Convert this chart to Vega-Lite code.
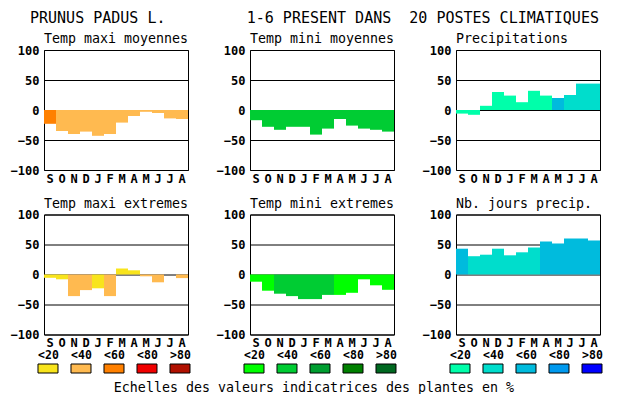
{
  "$schema": "https://vega.github.io/schema/vega-lite/v6.json",
  "background": "white",
  "padding": {"left": 9, "top": 11, "right": 5, "bottom": 5},
  "title": {"text": "PRUNUS PADUS L.\u00a0\u00a0\u00a0\u00a0\u00a0\u00a0\u00a0\u00a0\u00a01-6 PRESENT DANS\u00a0\u00a020 POSTES CLIMATIQUES", "fontSize": 15, "anchor": "start", "frame": "group", "dx": -14, "offset": 5.5},
  "datasets": {
    "bars": [
      {"p": "tmaxmoy", "m": 1, "v": -23, "c": "T3"},
      {"p": "tmaxmoy", "m": 2, "v": -35, "c": "T2"},
      {"p": "tmaxmoy", "m": 3, "v": -40, "c": "T2"},
      {"p": "tmaxmoy", "m": 4, "v": -36, "c": "T2"},
      {"p": "tmaxmoy", "m": 5, "v": -43, "c": "T2"},
      {"p": "tmaxmoy", "m": 6, "v": -40, "c": "T2"},
      {"p": "tmaxmoy", "m": 7, "v": -21, "c": "T2"},
      {"p": "tmaxmoy", "m": 8, "v": -10, "c": "T2"},
      {"p": "tmaxmoy", "m": 9, "v": -3, "c": "T2"},
      {"p": "tmaxmoy", "m": 10, "v": -5, "c": "T2"},
      {"p": "tmaxmoy", "m": 11, "v": -14, "c": "T2"},
      {"p": "tmaxmoy", "m": 12, "v": -15, "c": "T2"},
      {"p": "tminmoy", "m": 1, "v": -17, "c": "N2"},
      {"p": "tminmoy", "m": 2, "v": -28, "c": "N2"},
      {"p": "tminmoy", "m": 3, "v": -33, "c": "N2"},
      {"p": "tminmoy", "m": 4, "v": -28, "c": "N2"},
      {"p": "tminmoy", "m": 5, "v": -28, "c": "N2"},
      {"p": "tminmoy", "m": 6, "v": -41, "c": "N2"},
      {"p": "tminmoy", "m": 7, "v": -31, "c": "N2"},
      {"p": "tminmoy", "m": 8, "v": -15, "c": "N2"},
      {"p": "tminmoy", "m": 9, "v": -26, "c": "N2"},
      {"p": "tminmoy", "m": 10, "v": -31, "c": "N2"},
      {"p": "tminmoy", "m": 11, "v": -33, "c": "N2"},
      {"p": "tminmoy", "m": 12, "v": -36, "c": "N2"},
      {"p": "prec", "m": 1, "v": -6, "c": "P1"},
      {"p": "prec", "m": 2, "v": -8, "c": "P1"},
      {"p": "prec", "m": 3, "v": 7, "c": "P1"},
      {"p": "prec", "m": 4, "v": 30, "c": "P1"},
      {"p": "prec", "m": 5, "v": 24, "c": "P1"},
      {"p": "prec", "m": 6, "v": 13, "c": "P1"},
      {"p": "prec", "m": 7, "v": 32, "c": "P1"},
      {"p": "prec", "m": 8, "v": 24, "c": "P1"},
      {"p": "prec", "m": 9, "v": 20, "c": "P3"},
      {"p": "prec", "m": 10, "v": 25, "c": "P2"},
      {"p": "prec", "m": 11, "v": 44, "c": "P2"},
      {"p": "prec", "m": 12, "v": 44, "c": "P2"},
      {"p": "tmaxext", "m": 1, "v": -5.5, "c": "T1"},
      {"p": "tmaxext", "m": 2, "v": -8, "c": "T1"},
      {"p": "tmaxext", "m": 3, "v": -36, "c": "T2"},
      {"p": "tmaxext", "m": 4, "v": -26, "c": "T2"},
      {"p": "tmaxext", "m": 5, "v": -23, "c": "T1"},
      {"p": "tmaxext", "m": 6, "v": -36, "c": "T2"},
      {"p": "tmaxext", "m": 7, "v": 10, "c": "T1"},
      {"p": "tmaxext", "m": 8, "v": 7, "c": "T1"},
      {"p": "tmaxext", "m": 9, "v": -3, "c": "T2"},
      {"p": "tmaxext", "m": 10, "v": -13, "c": "T2"},
      {"p": "tmaxext", "m": 11, "v": 0, "c": "T2"},
      {"p": "tmaxext", "m": 12, "v": -6, "c": "T2"},
      {"p": "tminext", "m": 1, "v": -12, "c": "N1"},
      {"p": "tminext", "m": 2, "v": -27, "c": "N1"},
      {"p": "tminext", "m": 3, "v": -32, "c": "N2"},
      {"p": "tminext", "m": 4, "v": -36, "c": "N2"},
      {"p": "tminext", "m": 5, "v": -41, "c": "N2"},
      {"p": "tminext", "m": 6, "v": -41, "c": "N2"},
      {"p": "tminext", "m": 7, "v": -34, "c": "N2"},
      {"p": "tminext", "m": 8, "v": -34, "c": "N1"},
      {"p": "tminext", "m": 9, "v": -30.5, "c": "N1"},
      {"p": "tminext", "m": 10, "v": -8, "c": "N1"},
      {"p": "tminext", "m": 11, "v": -18, "c": "N1"},
      {"p": "tminext", "m": 12, "v": -25.5, "c": "N1"},
      {"p": "nbj", "m": 1, "v": 43, "c": "P3"},
      {"p": "nbj", "m": 2, "v": 30.5, "c": "P2"},
      {"p": "nbj", "m": 3, "v": 33, "c": "P2"},
      {"p": "nbj", "m": 4, "v": 43, "c": "P2"},
      {"p": "nbj", "m": 5, "v": 32, "c": "P2"},
      {"p": "nbj", "m": 6, "v": 37, "c": "P2"},
      {"p": "nbj", "m": 7, "v": 45, "c": "P2"},
      {"p": "nbj", "m": 8, "v": 55, "c": "P3"},
      {"p": "nbj", "m": 9, "v": 51.7, "c": "P3"},
      {"p": "nbj", "m": 10, "v": 60, "c": "P3"},
      {"p": "nbj", "m": 11, "v": 60, "c": "P3"},
      {"p": "nbj", "m": 12, "v": 56.7, "c": "P3"}
    ],
    "legend": [
      {"f": "T", "k": "<20", "c": "T1"},
      {"f": "T", "k": "<40", "c": "T2"},
      {"f": "T", "k": "<60", "c": "T3"},
      {"f": "T", "k": "<80", "c": "T4"},
      {"f": "T", "k": ">80", "c": "T5"},
      {"f": "N", "k": "<20", "c": "N1"},
      {"f": "N", "k": "<40", "c": "N2"},
      {"f": "N", "k": "<60", "c": "N3"},
      {"f": "N", "k": "<80", "c": "N4"},
      {"f": "N", "k": ">80", "c": "N5"},
      {"f": "P", "k": "<20", "c": "P1"},
      {"f": "P", "k": "<40", "c": "P2"},
      {"f": "P", "k": "<60", "c": "P3"},
      {"f": "P", "k": "<80", "c": "P4"},
      {"f": "P", "k": ">80", "c": "P5"}
    ]
  },
  "data": {"name": "bars"},
  "config": {
    "font": "DejaVu Sans Mono",
    "view": {"stroke": "black", "strokeWidth": 1},
    "axisY": {"grid": true, "gridColor": "black", "gridOpacity": 1, "gridWidth": 1, "domain": false, "ticks": false, "tickSize": 0, "labelPadding": 5, "labelFontWeight": "bold", "labelFontSize": 12, "labelColor": "black", "labelOverlap": false, "labelFlush": false, "title": null, "zindex": 1},
    "axisX": {"labelAngle": 0, "domain": false, "ticks": false, "tickSize": 0, "labelPadding": 3, "labelFontWeight": "bold", "labelFontSize": 12, "labelColor": "black", "title": null, "grid": false},
    "title": {"fontSize": 13.3, "fontWeight": "normal", "color": "black", "anchor": "start", "frame": "group", "baseline": "alphabetic", "offset": -1.5}
  },
  "vconcat": [
    {
      "vconcat": [
        {
          "hconcat": [
            {"width": 144, "height": 120, "title": "Temp maxi moyennes", "transform": [{"filter": "datum.p === 'tmaxmoy'"}], "mark": "bar",
             "encoding": {"x": {"field": "m", "type": "ordinal", "scale": {"paddingInner": 0, "paddingOuter": 0}, "axis": {"labelExpr": "['S','O','N','D','J','F','M','A','M','J','J','A'][datum.value-1]"}},
                          "y": {"field": "v", "type": "quantitative", "scale": {"domain": [-100, 100], "nice": false}, "axis": {"values": [-100, -50, 0, 50, 100]}},
                          "color": {"field": "c", "type": "nominal", "legend": null, "scale": {"domain": ["T1","T2","T3","T4","T5","N1","N2","N3","N4","N5","P1","P2","P3","P4","P5"], "range": ["#f8e41c","#ffba50","#ff8000","#f00000","#b01000","#00ff00","#00cc33","#009e30","#008000","#006820","#00ffaa","#00ddcc","#00bbdd","#0099ee","#0000ff"]}}}},
            {"width": 144, "height": 120, "title": "Temp mini moyennes", "transform": [{"filter": "datum.p === 'tminmoy'"}], "mark": "bar",
             "encoding": {"x": {"field": "m", "type": "ordinal", "scale": {"paddingInner": 0, "paddingOuter": 0}, "axis": {"labelExpr": "['S','O','N','D','J','F','M','A','M','J','J','A'][datum.value-1]"}},
                          "y": {"field": "v", "type": "quantitative", "scale": {"domain": [-100, 100], "nice": false}, "axis": {"values": [-100, -50, 0, 50, 100]}},
                          "color": {"field": "c", "type": "nominal", "legend": null, "scale": {"domain": ["T1","T2","T3","T4","T5","N1","N2","N3","N4","N5","P1","P2","P3","P4","P5"], "range": ["#f8e41c","#ffba50","#ff8000","#f00000","#b01000","#00ff00","#00cc33","#009e30","#008000","#006820","#00ffaa","#00ddcc","#00bbdd","#0099ee","#0000ff"]}}}},
            {"width": 144, "height": 120, "title": "Precipitations", "transform": [{"filter": "datum.p === 'prec'"}], "mark": "bar",
             "encoding": {"x": {"field": "m", "type": "ordinal", "scale": {"paddingInner": 0, "paddingOuter": 0}, "axis": {"labelExpr": "['S','O','N','D','J','F','M','A','M','J','J','A'][datum.value-1]"}},
                          "y": {"field": "v", "type": "quantitative", "scale": {"domain": [-100, 100], "nice": false}, "axis": {"values": [-100, -50, 0, 50, 100]}},
                          "color": {"field": "c", "type": "nominal", "legend": null, "scale": {"domain": ["T1","T2","T3","T4","T5","N1","N2","N3","N4","N5","P1","P2","P3","P4","P5"], "range": ["#f8e41c","#ffba50","#ff8000","#f00000","#b01000","#00ff00","#00cc33","#009e30","#008000","#006820","#00ffaa","#00ddcc","#00bbdd","#0099ee","#0000ff"]}}}}
          ],
          "spacing": 62, "bounds": "flush"
        },
        {
          "hconcat": [
            {"width": 144, "height": 120, "title": "Temp maxi extremes", "transform": [{"filter": "datum.p === 'tmaxext'"}], "mark": "bar",
             "encoding": {"x": {"field": "m", "type": "ordinal", "scale": {"paddingInner": 0, "paddingOuter": 0}, "axis": {"labelExpr": "['S','O','N','D','J','F','M','A','M','J','J','A'][datum.value-1]"}},
                          "y": {"field": "v", "type": "quantitative", "scale": {"domain": [-100, 100], "nice": false}, "axis": {"values": [-100, -50, 0, 50, 100]}},
                          "color": {"field": "c", "type": "nominal", "legend": null, "scale": {"domain": ["T1","T2","T3","T4","T5","N1","N2","N3","N4","N5","P1","P2","P3","P4","P5"], "range": ["#f8e41c","#ffba50","#ff8000","#f00000","#b01000","#00ff00","#00cc33","#009e30","#008000","#006820","#00ffaa","#00ddcc","#00bbdd","#0099ee","#0000ff"]}}}},
            {"width": 144, "height": 120, "title": "Temp mini extremes", "transform": [{"filter": "datum.p === 'tminext'"}], "mark": "bar",
             "encoding": {"x": {"field": "m", "type": "ordinal", "scale": {"paddingInner": 0, "paddingOuter": 0}, "axis": {"labelExpr": "['S','O','N','D','J','F','M','A','M','J','J','A'][datum.value-1]"}},
                          "y": {"field": "v", "type": "quantitative", "scale": {"domain": [-100, 100], "nice": false}, "axis": {"values": [-100, -50, 0, 50, 100]}},
                          "color": {"field": "c", "type": "nominal", "legend": null, "scale": {"domain": ["T1","T2","T3","T4","T5","N1","N2","N3","N4","N5","P1","P2","P3","P4","P5"], "range": ["#f8e41c","#ffba50","#ff8000","#f00000","#b01000","#00ff00","#00cc33","#009e30","#008000","#006820","#00ffaa","#00ddcc","#00bbdd","#0099ee","#0000ff"]}}}},
            {"width": 144, "height": 120, "title": "Nb. jours precip.", "transform": [{"filter": "datum.p === 'nbj'"}], "mark": "bar",
             "encoding": {"x": {"field": "m", "type": "ordinal", "scale": {"paddingInner": 0, "paddingOuter": 0}, "axis": {"labelExpr": "['S','O','N','D','J','F','M','A','M','J','J','A'][datum.value-1]"}},
                          "y": {"field": "v", "type": "quantitative", "scale": {"domain": [-100, 100], "nice": false}, "axis": {"values": [-100, -50, 0, 50, 100]}},
                          "color": {"field": "c", "type": "nominal", "legend": null, "scale": {"domain": ["T1","T2","T3","T4","T5","N1","N2","N3","N4","N5","P1","P2","P3","P4","P5"], "range": ["#f8e41c","#ffba50","#ff8000","#f00000","#b01000","#00ff00","#00cc33","#009e30","#008000","#006820","#00ffaa","#00ddcc","#00bbdd","#0099ee","#0000ff"]}}}}
          ],
          "spacing": 62, "bounds": "flush"
        }
      ],
      "spacing": 10.5
    },
    {
      "hconcat": [
        {"width": 144, "height": 9, "data": {"name": "legend"}, "view": {"stroke": null}, "transform": [{"filter": "datum.f === 'T'"}],
         "mark": {"type": "bar", "width": 20, "stroke": "black", "strokeWidth": 1},
         "encoding": {"x": {"field": "k", "type": "ordinal", "sort": null, "scale": {"type": "point", "padding": 0.182, "align": 0.333}, "axis": {"orient": "top", "labelPadding": 6, "labelBaseline": "alphabetic", "labelFontSize": 11.5}},
                      "color": {"field": "c", "type": "nominal", "legend": null, "scale": {"domain": ["T1","T2","T3","T4","T5","N1","N2","N3","N4","N5","P1","P2","P3","P4","P5"], "range": ["#f8e41c","#ffba50","#ff8000","#f00000","#b01000","#00ff00","#00cc33","#009e30","#008000","#006820","#00ffaa","#00ddcc","#00bbdd","#0099ee","#0000ff"]}}}},
        {"width": 144, "height": 9, "data": {"name": "legend"}, "view": {"stroke": null}, "transform": [{"filter": "datum.f === 'N'"}],
         "mark": {"type": "bar", "width": 20, "stroke": "black", "strokeWidth": 1},
         "encoding": {"x": {"field": "k", "type": "ordinal", "sort": null, "scale": {"type": "point", "padding": 0.182, "align": 0.333}, "axis": {"orient": "top", "labelPadding": 6, "labelBaseline": "alphabetic", "labelFontSize": 11.5}},
                      "color": {"field": "c", "type": "nominal", "legend": null, "scale": {"domain": ["T1","T2","T3","T4","T5","N1","N2","N3","N4","N5","P1","P2","P3","P4","P5"], "range": ["#f8e41c","#ffba50","#ff8000","#f00000","#b01000","#00ff00","#00cc33","#009e30","#008000","#006820","#00ffaa","#00ddcc","#00bbdd","#0099ee","#0000ff"]}}}},
        {"width": 144, "height": 9, "data": {"name": "legend"}, "view": {"stroke": null}, "transform": [{"filter": "datum.f === 'P'"}],
         "mark": {"type": "bar", "width": 20, "stroke": "black", "strokeWidth": 1},
         "encoding": {"x": {"field": "k", "type": "ordinal", "sort": null, "scale": {"type": "point", "padding": 0.182, "align": 0.333}, "axis": {"orient": "top", "labelPadding": 6, "labelBaseline": "alphabetic", "labelFontSize": 11.5}},
                      "color": {"field": "c", "type": "nominal", "legend": null, "scale": {"domain": ["T1","T2","T3","T4","T5","N1","N2","N3","N4","N5","P1","P2","P3","P4","P5"], "range": ["#f8e41c","#ffba50","#ff8000","#f00000","#b01000","#00ff00","#00cc33","#009e30","#008000","#006820","#00ffaa","#00ddcc","#00bbdd","#0099ee","#0000ff"]}}}}
      ],
      "spacing": 62, "bounds": "flush",
      "title": {"text": "Echelles des valeurs indicatrices des plantes en %", "orient": "bottom", "anchor": "middle", "frame": "bounds", "dx": -6, "offset": 18, "baseline": "alphabetic"}
    }
  ],
  "spacing": 0
}
